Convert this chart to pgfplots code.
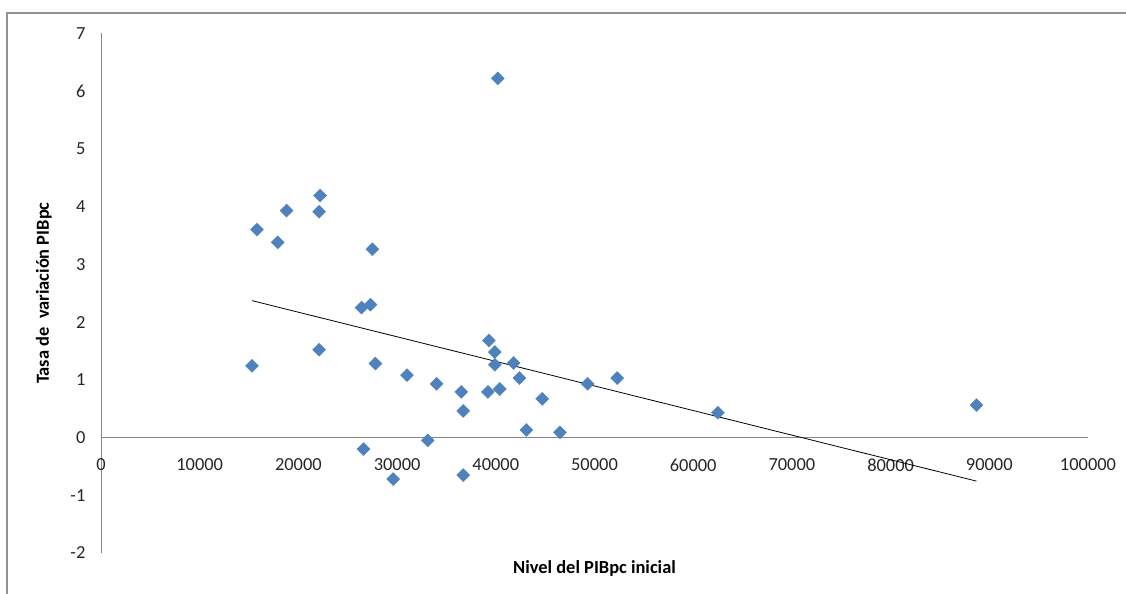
\documentclass[border=0pt]{standalone}
\usepackage{pgfplots}
\pgfplotsset{compat=1.18}
\usepackage{fontspec}
\setmainfont{Carlito}
\definecolor{excelblue}{HTML}{4F81BD}
\definecolor{axisgray}{HTML}{868686}
\begin{document}
\begin{tikzpicture}
\useasboundingbox (0,0) rectangle (1126bp,594bp);
\draw[line width=1.5bp, color=axisgray!90] (7bp,0bp) -- (7bp,581bp) -- (1126bp,581bp);
\begin{axis}[
  at={(101bp,41bp)}, anchor=south west,
  scale only axis, width=987bp, height=519.7bp,
  xmin=0, xmax=100000, ymin=-2, ymax=7,
  axis x line=middle, axis y line=left,
  axis line style={-, draw=axisgray, line width=0.9bp},
  every inner x axis line/.append style={-},
  every outer y axis line/.append style={-},
  hide obscured x ticks=false, hide obscured y ticks=false,
  xtick={0,10000,...,100000}, ytick={-2,-1,...,7},
  major tick length=0pt,
  scaled x ticks=false,
  /pgf/number format/.cd, fixed, 1000 sep={}, assume math mode=true, /pgfplots/.cd,
  tick label style={font=\fontsize{18.5}{22}\selectfont, text=black!85},
  xticklabel style={anchor=north, yshift=-18bp},
  yticklabel style={anchor=east, xshift=-12bp},
  clip=false,
  xlabel={Nivel del PIBpc inicial},
  ylabel={Tasa de\ \ variación PIBpc},
  every axis x label/.style={at={(axis description cs:0.5,-0.0289)}, anchor=center, font=\bfseries\fontsize{18.5}{22}\selectfont},
  every axis y label/.style={at={(axis description cs:-0.0578,0.5)}, rotate=90, anchor=center, font=\bfseries\fontsize{18.5}{22}\selectfont},
]
\addplot[only marks, mark=square*, mark size=4.6bp, mark options={rotate=45, fill=excelblue, draw=excelblue}] coordinates {
(15300,1.24) (15800,3.60) (17900,3.38) (18800,3.93) (22200,4.19) (22100,3.91)
(22100,1.52) (27500,3.26) (26400,2.25) (27300,2.30) (27800,1.28) (26600,-0.20)
(29600,-0.72) (31000,1.08) (33100,-0.05) (34000,0.93) (36500,0.79) (36700,0.46)
(36700,-0.65) (39300,1.68) (39900,1.48) (39900,1.26) (39200,0.79) (40400,0.84)
(40200,6.22) (41800,1.29) (42400,1.03) (43100,0.13) (44700,0.67) (46500,0.09)
(49300,0.93) (52300,1.03) (62500,0.43) (88700,0.56)
};
\addplot[black, line width=0.8bp, no marks] coordinates {(15300,2.37) (88700,-0.755)};
\end{axis}
\end{tikzpicture}
\end{document}
